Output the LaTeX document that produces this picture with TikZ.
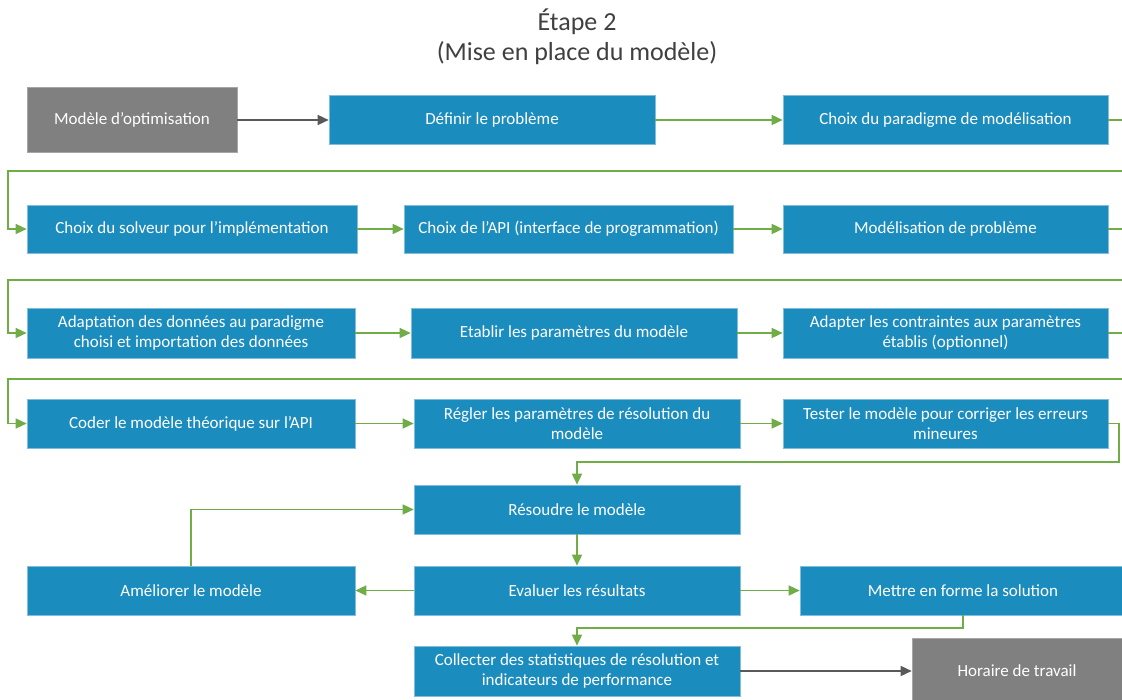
\documentclass[tikz,border=0pt]{standalone}
\usepackage{fontspec}
\setmainfont{Carlito}
\usetikzlibrary{arrows.meta}
\definecolor{boxblue}{RGB}{27,140,190}
\definecolor{boxedge}{RGB}{130,190,220}
\definecolor{boxgray}{RGB}{128,128,128}
\definecolor{flowgreen}{RGB}{112,173,71}
\definecolor{flowgray}{RGB}{89,89,89}
\definecolor{titlegray}{RGB}{64,64,64}
\tikzset{
  stepbox/.style={rectangle, fill=boxblue, draw=boxedge, line width=0.6pt,
    text=white, align=center, inner sep=0pt, font=\fontsize{17}{20.5}\selectfont},
  endbox/.style={stepbox, fill=boxgray, draw=boxgray!70!white},
  flow/.style={draw=flowgreen, line width=1.4pt,
    -{Triangle[length=11pt,width=10pt]}},
  flowend/.style={flow, draw=flowgray},
}
\begin{document}
\begin{tikzpicture}[x=1pt,y=-1pt]
\useasboundingbox (0,0) rectangle (1122,700);
\clip (0,0) rectangle (1122,700);
\fill[white] (0,0) rectangle (1122,700);

% title
\node[text=titlegray, font=\fontsize{26}{30}\selectfont] (t1) at (577,22) {Étape 2};
\node[text=titlegray, font=\fontsize{26}{30}\selectfont] (t2) at (577,53) {(Mise en place du modèle)};

% row 1
\node[endbox, minimum width=210pt, minimum height=65pt] (opt) at (132,120) {Modèle d’optimisation};
\node[stepbox, minimum width=326pt, minimum height=49pt] (def) at (492,120) {Définir le problème};
\node[stepbox, minimum width=325pt, minimum height=49pt] (para) at (945.5,120) {Choix du paradigme de modélisation};

% row 2
\node[stepbox, minimum width=330pt, minimum height=48pt] (solv) at (192,229) {Choix du solveur pour l’implémentation};
\node[stepbox, minimum width=329pt, minimum height=48pt] (api) at (568.5,229) {Choix de l’API (interface de programmation)};
\node[stepbox, minimum width=325pt, minimum height=48pt] (modp) at (945.5,229) {Modélisation de problème};

% row 3
\node[stepbox, minimum width=328pt, minimum height=50pt] (adapt) at (191,333) {Adaptation des données au paradigme\\choisi et importation des données};
\node[stepbox, minimum width=326pt, minimum height=50pt] (etab) at (574,333) {Etablir les paramètres du modèle};
\node[stepbox, minimum width=325pt, minimum height=50pt] (contr) at (945.5,333) {Adapter les contraintes aux paramètres\\établis (optionnel)};

% row 4
\node[stepbox, minimum width=328pt, minimum height=49pt] (coder) at (191,423.5) {Coder le modèle théorique sur l’API};
\node[stepbox, minimum width=326pt, minimum height=49pt] (regl) at (577,423.5) {Régler les paramètres de résolution du\\modèle};
\node[stepbox, minimum width=325pt, minimum height=49pt] (test) at (945.5,423.5) {Tester le modèle pour corriger les erreurs\\mineures};

% solving loop
\node[stepbox, minimum width=326pt, minimum height=49pt] (reso) at (577,509.5) {Résoudre le modèle};
\node[stepbox, minimum width=328pt, minimum height=49pt] (amel) at (191,590.5) {Améliorer le modèle};
\node[stepbox, minimum width=326pt, minimum height=49pt] (eval) at (577,590.5) {Evaluer les résultats};
\node[stepbox, minimum width=326pt, minimum height=49pt] (mett) at (963,590.5) {Mettre en forme la solution};

% output
\node[stepbox, minimum width=326pt, minimum height=50pt] (coll) at (577,671) {Collecter des statistiques de résolution et\\indicateurs de performance};
\node[endbox, minimum width=210pt, minimum height=66pt] (hor) at (1017,671) {Horaire de travail};

% turning points of the row wraps
\coordinate (e1) at (1140,171);
\coordinate (e2) at (1140,280);
\coordinate (e3) at (1140,379);
\coordinate (w1) at (8,171);
\coordinate (w2) at (8,280);
\coordinate (w3) at (8,379);
\coordinate (tr) at (1119,462);
\coordinate (mb) at (577,628);

% connectors
\draw[flowend] (opt) -- (def);
\draw[flow] (def) -- (para);
\draw[flow] (para.east) -| (e1) -- (w1) |- (solv.west);
\draw[flow] (solv) -- (api);
\draw[flow] (api) -- (modp);
\draw[flow] (modp.east) -| (e2) -- (w2) |- (adapt.west);
\draw[flow] (adapt) -- (etab);
\draw[flow] (etab) -- (contr);
\draw[flow] (contr.east) -| (e3) -- (w3) |- (coder.west);
\draw[flow] (coder) -- (regl);
\draw[flow] (regl) -- (test);
\draw[flow] (test.east) -| (tr) -| (reso.north);
\draw[flow] (reso) -- (eval);
\draw[flow] (eval) -- (amel);
\draw[flow] (amel.north) |- (reso.west);
\draw[flow] (eval) -- (mett);
\draw[flow] (mett.south) |- (mb) -- (coll.north);
\draw[flowend] (coll) -- (hor);
\end{tikzpicture}
\end{document}
